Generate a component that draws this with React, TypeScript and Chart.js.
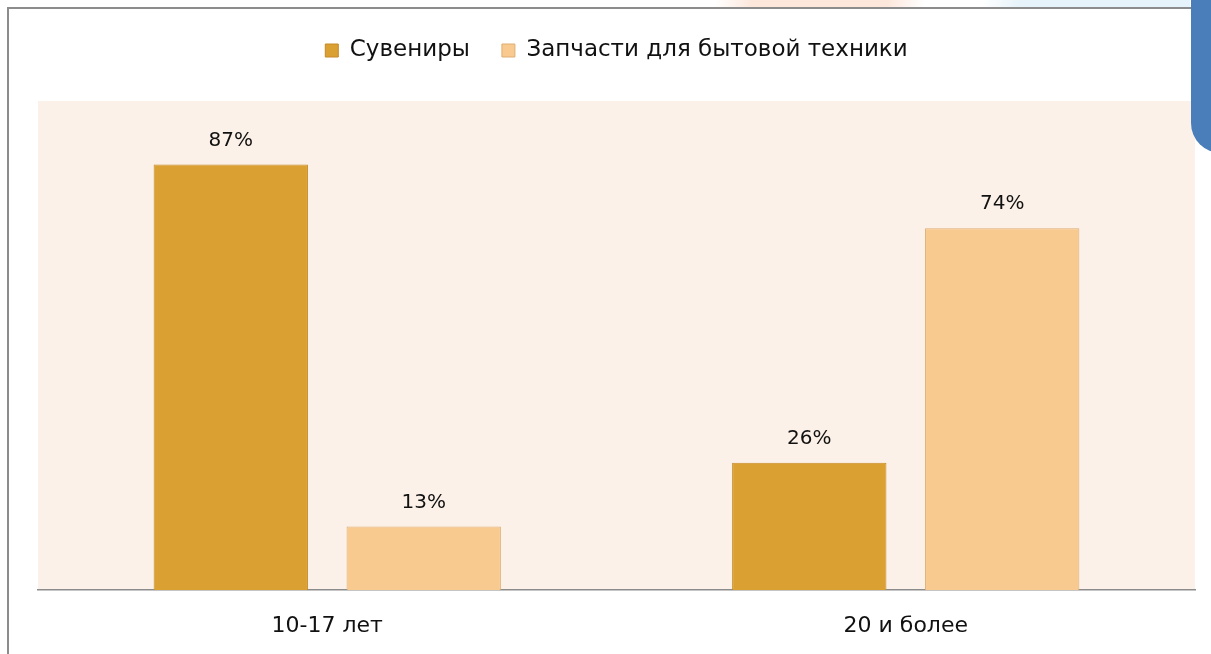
import React, { useEffect, useRef } from "react";
import { Chart, registerables } from "chart.js";

Chart.register(...registerables);

const categories = ["10-17 лет", "20 и более"];
const seriesNames = ["Сувениры", "Запчасти для бытовой техники"];
const souvenirs = [87, 26];
const parts = [13, 74];

const FONT = "'DejaVu Sans', sans-serif";

const bgPlugin = {
  id: "plotBg",
  beforeDraw(chart: any) {
    const { ctx, chartArea } = chart;
    ctx.save();
    ctx.fillStyle = "#FCF1E8";
    ctx.fillRect(chartArea.left, chartArea.top, chartArea.right - chartArea.left, chartArea.bottom - chartArea.top);
    ctx.restore();
  },
  beforeLayout(chart: any) {
    const lg = chart.legend;
    if (lg && !lg.__patched) {
      const orig = lg.fit;
      lg.fit = function () {
        orig.call(this);
        this.height = 94;
      };
      lg.__patched = true;
    }
  },
  afterDatasetsDraw(chart: any) {
    const { ctx } = chart;
    ctx.save();
    ctx.font = `20px ${FONT}`;
    ctx.fillStyle = "#111";
    ctx.textAlign = "center";
    ctx.textBaseline = "bottom";
    chart.data.datasets.forEach((ds: any, i: number) => {
      const meta = chart.getDatasetMeta(i);
      meta.data.forEach((bar: any, j: number) => {
        ctx.fillText(ds.data[j] + "%", bar.x, bar.y - 14);
      });
    });
    ctx.restore();
  },
};

export default function App() {
  const ref = useRef<HTMLCanvasElement>(null);
  useEffect(() => {
    document.body.style.margin = "0";
    const chart = new Chart(ref.current!, {
      type: "bar",
      data: {
        labels: categories,
        datasets: [
          {
            label: seriesNames[0],
            data: souvenirs,
            backgroundColor: "#DBA032",
            borderColor: "#C48A26",
            borderWidth: 1,
            categoryPercentage: 0.667,
            barPercentage: 0.8,
          },
          {
            label: seriesNames[1],
            data: parts,
            backgroundColor: "#F8CA8F",
            borderColor: "#DDAE72",
            borderWidth: 1,
            categoryPercentage: 0.667,
            barPercentage: 0.8,
          },
        ],
      },
      options: {
        animation: false,
        responsive: false,
        maintainAspectRatio: false,
        layout: { padding: { top: 7, left: 38, right: 16, bottom: 0 } },
        plugins: {
          legend: {
            display: true,
            position: "top",
            labels: {
              boxWidth: 13,
              boxHeight: 13,
              padding: 32,
              color: "#111",
              font: { family: FONT, size: 23 },
            },
          },
          tooltip: { enabled: false },
        },
        scales: {
          x: {
            grid: { display: false, drawTicks: false },
            border: { display: true, color: "#8C8C8C", width: 1.5 },
            ticks: { color: "#111", font: { family: FONT, size: 22 }, padding: 23 },
            afterFit(scale: any) {
              scale.height = 64;
            },
          },
          y: {
            display: false,
            min: 0,
            max: 100,
          },
        },
      },
      plugins: [bgPlugin],
    });
    return () => chart.destroy();
  }, []);

  return (
    <div style={{ position: "relative", width: 1211, height: 654, overflow: "hidden", background: "#fff" }}>
      <div style={{ position: "absolute", left: 240, top: 0, width: 950, height: 8, background: "linear-gradient(100deg, #fff 0%, #fff 50%, #FDE6DA 54%, #FDE6DA 68%, #fff 72%, #fff 78%, #E6F3FA 82%, #E6F3FA 100%)" }} />
      <div style={{ position: "absolute", left: 7, top: 7, width: 1190, height: 2, background: "#8C8C8C" }} />
      <div style={{ position: "absolute", left: 7, top: 7, width: 2, height: 647, background: "#8C8C8C" }} />
      <canvas ref={ref} width={1211} height={654} style={{ position: "absolute", left: 0, top: 0 }} />
      <div style={{ position: "absolute", left: 1191, top: -20, width: 40, height: 173, background: "#4A7EBB", borderBottomLeftRadius: 30 }} />
    </div>
  );
}
